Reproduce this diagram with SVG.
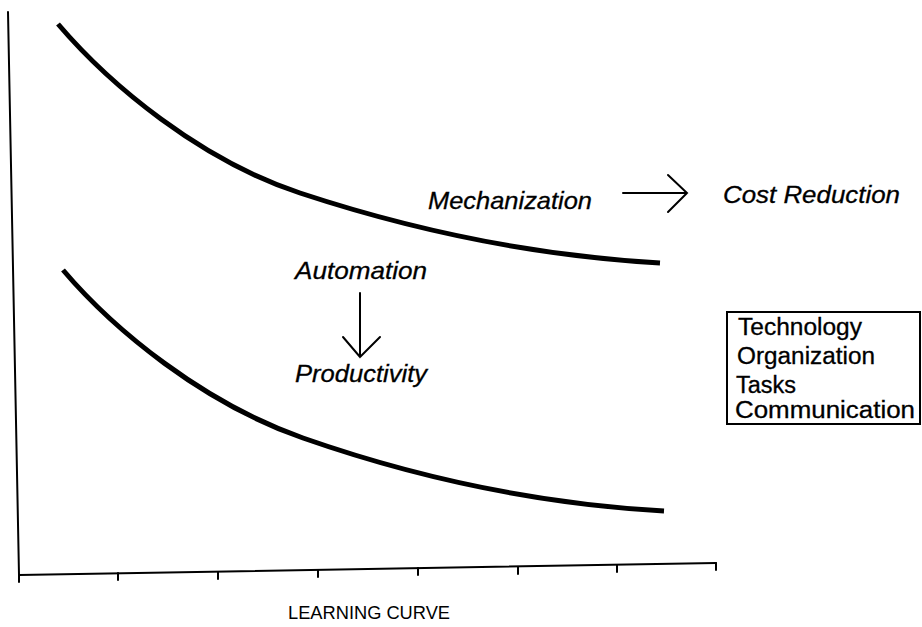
<svg xmlns="http://www.w3.org/2000/svg" width="922" height="627" viewBox="0 0 922 627">
  <style>
    .axis { fill: none; stroke: #000; stroke-width: 2; stroke-linecap: round; }
    .curve { fill: none; stroke: #000; stroke-width: 5; stroke-linecap: butt; }
    .arrow { fill: none; stroke: #000; stroke-width: 2; stroke-linecap: round; stroke-linejoin: miter; }
    .hand { font-family: "Liberation Sans", Arial, sans-serif; font-style: italic; font-size: 24px; fill: #000; stroke: #000; stroke-width: 0.3; }
    .list { font-family: "Liberation Sans", Arial, sans-serif; font-size: 23px; fill: #000; stroke: #000; stroke-width: 0.3; }
    .caption { font-family: "Liberation Sans", Arial, sans-serif; font-size: 19px; fill: #000; }
  </style>
  <rect width="922" height="627" fill="#fff"/>

  <!-- axes with tick marks -->
  <g id="axes">
    <path class="axis" d="M8,12 L19,575"/>
    <path class="axis" d="M19,575 L716,563"/>
    <path class="axis" d="M19,575 v7 M118,573 v7 M218,572 v7 M318,570 v7 M418,568 v7 M518,567 v7 M617,565 v7 M716,563 v7"/>
  </g>

  <!-- the two learning curves -->
  <g id="curve-upper">
    <path class="curve" d="M58,24 C110,85 200,160 300,193 S520,255 660,263"/>
  </g>
  <g id="curve-lower">
    <path class="curve" d="M63,270 C114,330 203,403 303,438 S523,503 664,511"/>
  </g>

  <!-- labels -->
  <g id="mechanization">
    <text class="hand" x="428" y="209" textLength="164" lengthAdjust="spacingAndGlyphs">Mechanization</text>
  </g>
  <g id="cost-reduction">
    <text class="hand" x="723" y="203" textLength="177" lengthAdjust="spacingAndGlyphs">Cost Reduction</text>
  </g>
  <g id="automation">
    <text class="hand" x="295" y="279" textLength="132" lengthAdjust="spacingAndGlyphs">Automation</text>
  </g>
  <g id="productivity">
    <text class="hand" x="295" y="382" textLength="132" lengthAdjust="spacingAndGlyphs">Productivity</text>
  </g>

  <!-- factor box -->
  <g id="factors">
    <rect x="727" y="312" width="193" height="112" fill="none" stroke="#000" stroke-width="2"/>
    <text class="list" x="738" y="335" textLength="124" lengthAdjust="spacingAndGlyphs">Technology</text>
    <text class="list" x="737" y="364" textLength="138" lengthAdjust="spacingAndGlyphs">Organization</text>
    <text class="list" x="736" y="393" textLength="60" lengthAdjust="spacingAndGlyphs">Tasks</text>
    <text class="list" x="735" y="418" textLength="180" lengthAdjust="spacingAndGlyphs">Communication</text>
  </g>

  <g id="x-label">
    <text class="caption" x="288" y="619" textLength="162" lengthAdjust="spacingAndGlyphs">LEARNING CURVE</text>
  </g>

  <!-- connectors -->
  <g id="connectors">
    <path class="arrow" d="M623,193 H687 M668,175 L687,193 L668,212"/>
    <path class="arrow" d="M360,293 V357 M343,337 L360,357 L380,337"/>
  </g>
</svg>
